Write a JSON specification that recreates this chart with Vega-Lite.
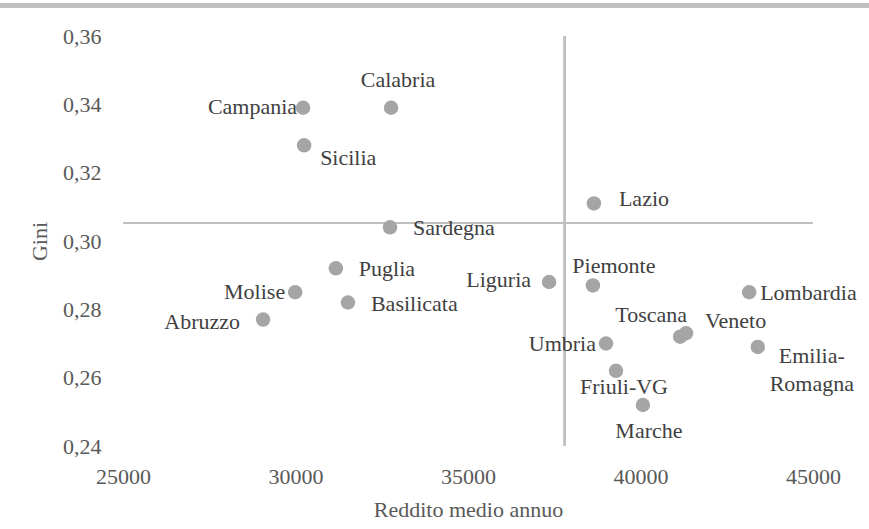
{
  "$schema": "https://vega.github.io/schema/vega-lite/v6.json",
  "width": 690,
  "height": 410,
  "autosize": {"type": "none"},
  "padding": {"left": 123, "top": 36, "right": 56, "bottom": 83},
  "background": "white",
  "config": {
    "view": {"stroke": null},
    "locale": {"number": {"decimal": ",", "thousands": "", "grouping": [3], "currency": ["€", ""]}},
    "font": "Liberation Serif",
    "text": {"font": "Liberation Serif", "fontSize": 22, "color": "#404040"}
  },
  "data": {"values": [
    {"region": "Campania", "reddito": 30220, "gini": 0.339},
    {"region": "Calabria", "reddito": 32770, "gini": 0.339},
    {"region": "Sicilia", "reddito": 30250, "gini": 0.328},
    {"region": "Sardegna", "reddito": 32740, "gini": 0.304},
    {"region": "Lazio", "reddito": 38650, "gini": 0.311},
    {"region": "Puglia", "reddito": 31170, "gini": 0.292},
    {"region": "Molise", "reddito": 29990, "gini": 0.285},
    {"region": "Basilicata", "reddito": 31520, "gini": 0.282},
    {"region": "Abruzzo", "reddito": 29060, "gini": 0.277},
    {"region": "Liguria", "reddito": 37350, "gini": 0.288},
    {"region": "Piemonte", "reddito": 38620, "gini": 0.287},
    {"region": "Lombardia", "reddito": 43150, "gini": 0.285},
    {"region": "Toscana", "reddito": 41150, "gini": 0.272},
    {"region": "Veneto", "reddito": 41320, "gini": 0.273},
    {"region": "Umbria", "reddito": 39000, "gini": 0.270},
    {"region": "Emilia-Romagna", "reddito": 43400, "gini": 0.269},
    {"region": "Friuli-VG", "reddito": 39290, "gini": 0.262},
    {"region": "Marche", "reddito": 40070, "gini": 0.252}
  ]},
  "encoding": {
    "x": {"field": "reddito", "type": "quantitative", "scale": {"domain": [25000, 45000], "nice": false, "zero": false},
      "axis": {"title": "Reddito medio annuo", "values": [25000, 30000, 35000, 40000, 45000], "format": "d", "labelFlush": false, "labelPadding": 20, "titlePadding": 12,
        "domain": false, "ticks": false, "grid": false, "labelFont": "Liberation Serif", "titleFont": "Liberation Serif", "labelFontSize": 22, "titleFontSize": 22, "titleFontWeight": "normal", "labelColor": "#595959", "titleColor": "#595959"}},
    "y": {"field": "gini", "type": "quantitative", "scale": {"domain": [0.24, 0.36], "nice": false, "zero": false},
      "axis": {"title": "Gini", "values": [0.24, 0.26, 0.28, 0.30, 0.32, 0.34, 0.36], "format": ".2f", "labelFlush": false, "labelPadding": 22, "titlePadding": 11,
        "domain": false, "ticks": false, "grid": false, "labelFont": "Liberation Serif", "titleFont": "Liberation Serif", "labelFontSize": 22, "titleFontSize": 22, "titleFontWeight": "normal", "labelColor": "#595959", "titleColor": "#595959"}}
  },
  "layer": [
    {"mark": {"type": "rule", "color": "#bfbfbf", "strokeWidth": 5, "clip": false},
     "encoding": {"x": {"datum": 21400}, "x2": {"datum": 46700}, "y": {"datum": 0.3689}}},
    {"mark": {"type": "rule", "color": "#bfbfbf", "strokeWidth": 2},
     "encoding": {"x": {"datum": 37810}, "y": {"datum": 0.36}, "y2": {"datum": 0.24}}},
    {"mark": {"type": "rule", "color": "#bfbfbf", "strokeWidth": 2},
     "encoding": {"y": {"datum": 0.3053}, "x": {"datum": 25000}, "x2": {"datum": 45000}}},
    {"mark": {"type": "circle", "color": "#a5a5a5", "opacity": 1, "size": 210}},
    {"transform": [{"filter": {"field": "region", "oneOf": ["Sardegna", "Puglia", "Basilicata"]}}],
     "mark": {"type": "text", "align": "left", "baseline": "middle", "dx": 23, "dy": 1},
     "encoding": {"text": {"field": "region"}}},
    {"transform": [{"filter": "datum.region == 'Lazio'"}],
     "mark": {"type": "text", "align": "left", "baseline": "middle", "dx": 25, "dy": -4},
     "encoding": {"text": {"field": "region"}}},
    {"transform": [{"filter": "datum.region == 'Lombardia'"}],
     "mark": {"type": "text", "align": "left", "baseline": "middle", "dx": 11, "dy": 1},
     "encoding": {"text": {"field": "region"}}},
    {"transform": [{"filter": "datum.region == 'Campania'"}],
     "mark": {"type": "text", "align": "right", "baseline": "middle", "dx": -6, "dy": -1},
     "encoding": {"text": {"field": "region"}}},
    {"transform": [{"filter": {"field": "region", "oneOf": ["Molise", "Umbria"]}}],
     "mark": {"type": "text", "align": "right", "baseline": "middle", "dx": -10, "dy": 0},
     "encoding": {"text": {"field": "region"}}},
    {"transform": [{"filter": "datum.region == 'Liguria'"}],
     "mark": {"type": "text", "align": "right", "baseline": "middle", "dx": -18, "dy": -2},
     "encoding": {"text": {"field": "region"}}},
    {"transform": [{"filter": "datum.region == 'Abruzzo'"}],
     "mark": {"type": "text", "align": "right", "baseline": "middle", "dx": -23, "dy": 2},
     "encoding": {"text": {"field": "region"}}},
    {"transform": [{"filter": "datum.region == 'Sicilia'"}],
     "mark": {"type": "text", "align": "left", "baseline": "middle", "dx": 16, "dy": 13},
     "encoding": {"text": {"field": "region"}}},
    {"transform": [{"filter": "datum.region == 'Calabria'"}],
     "mark": {"type": "text", "align": "center", "baseline": "middle", "dx": 7, "dy": -28},
     "encoding": {"text": {"field": "region"}}},
    {"transform": [{"filter": "datum.region == 'Piemonte'"}],
     "mark": {"type": "text", "align": "center", "baseline": "middle", "dx": 21, "dy": -19},
     "encoding": {"text": {"field": "region"}}},
    {"transform": [{"filter": "datum.region == 'Toscana'"}],
     "mark": {"type": "text", "align": "center", "baseline": "middle", "dx": -29, "dy": -22},
     "encoding": {"text": {"field": "region"}}},
    {"transform": [{"filter": "datum.region == 'Veneto'"}],
     "mark": {"type": "text", "align": "left", "baseline": "middle", "dx": 19, "dy": -12},
     "encoding": {"text": {"field": "region"}}},
    {"transform": [{"filter": "datum.region == 'Friuli-VG'"}],
     "mark": {"type": "text", "align": "center", "baseline": "middle", "dx": 8, "dy": 16},
     "encoding": {"text": {"field": "region"}}},
    {"transform": [{"filter": "datum.region == 'Marche'"}],
     "mark": {"type": "text", "align": "center", "baseline": "middle", "dx": 6, "dy": 26},
     "encoding": {"text": {"field": "region"}}},
    {"transform": [{"filter": "datum.region == 'Emilia-Romagna'"}],
     "mark": {"type": "text", "align": "center", "baseline": "middle", "dx": 54, "dy": 9, "lineHeight": 28, "lineBreak": "\n"},
     "encoding": {"text": {"value": ["Emilia-", "Romagna"]}}}
  ]
}
